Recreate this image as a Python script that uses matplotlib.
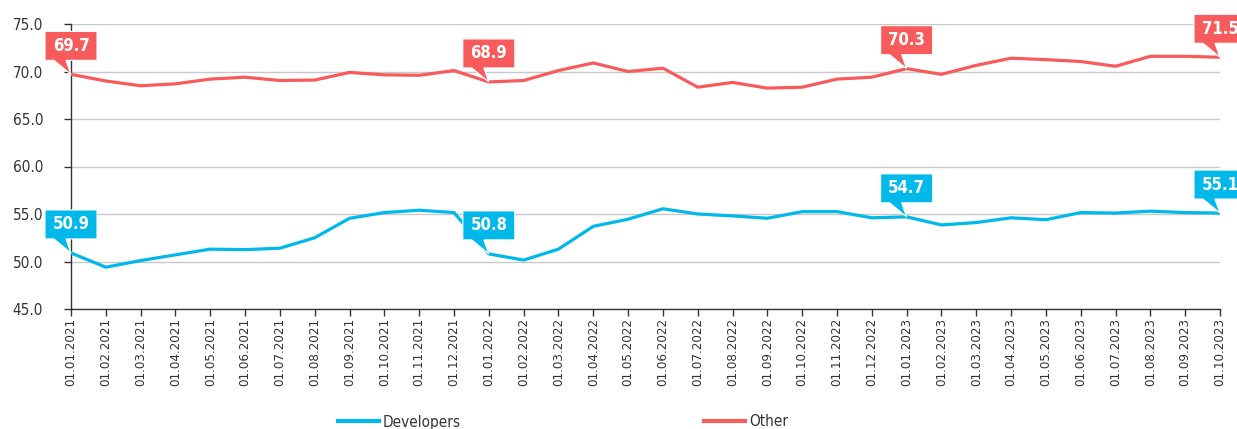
import matplotlib
matplotlib.use("Agg")
import matplotlib.pyplot as plt
import matplotlib.transforms as mtransforms
from matplotlib.patches import Polygon
from matplotlib.lines import Line2D

dates = [
    "01.01.2021", "01.02.2021", "01.03.2021", "01.04.2021", "01.05.2021", "01.06.2021",
    "01.07.2021", "01.08.2021", "01.09.2021", "01.10.2021", "01.11.2021", "01.12.2021",
    "01.01.2022", "01.02.2022", "01.03.2022", "01.04.2022", "01.05.2022", "01.06.2022",
    "01.07.2022", "01.08.2022", "01.09.2022", "01.10.2022", "01.11.2022", "01.12.2022",
    "01.01.2023", "01.02.2023", "01.03.2023", "01.04.2023", "01.05.2023", "01.06.2023",
    "01.07.2023", "01.08.2023", "01.09.2023", "01.10.2023",
]
developers = [50.9, 49.4, 50.1, 50.7, 51.3, 51.25, 51.4, 52.5, 54.55, 55.15, 55.4, 55.15,
              50.8, 50.15, 51.3, 53.7, 54.45, 55.55, 55.0, 54.8, 54.55, 55.25, 55.25, 54.6,
              54.7, 53.85, 54.1, 54.6, 54.4, 55.15, 55.1, 55.3, 55.15, 55.1]
other = [69.7, 69.0, 68.5, 68.7, 69.2, 69.4, 69.05, 69.1, 69.9, 69.65, 69.6, 70.1,
         68.9, 69.05, 70.1, 70.9, 70.0, 70.35, 68.35, 68.85, 68.25, 68.35, 69.2, 69.4,
         70.3, 69.7, 70.65, 71.4, 71.25, 71.05, 70.55, 71.6, 71.6, 71.5]
label_idx = [0, 12, 24, 33]
yticks = [45, 50, 55, 60, 65, 70, 75]

BLUE = "#00B8EA"
RED = "#F75B5B"
FONT = ["DejaVu Sans"]
plt.rcParams["font.family"] = FONT
plt.rcParams["font.stretch"] = "condensed"

fig = plt.figure(figsize=(12.37, 4.29), dpi=100)
ax = fig.add_axes([71 / 1237, 1 - 309 / 429, (1220 - 71) / 1237, (309 - 24) / 429])

x = list(range(len(dates)))
ax.plot(x, developers, color=BLUE, lw=2.3, solid_joinstyle="round", zorder=3)
ax.plot(x, other, color=RED, lw=2.3, solid_joinstyle="round", zorder=3)

ax.set_xlim(0, len(dates) - 1)
ax.set_ylim(45, 75)
ax.set_yticks(yticks)
ax.set_yticklabels([f"{v:.1f}" for v in yticks], fontsize=11, color="#333333")
ax.set_xticks(x)
ax.set_xticklabels(dates, rotation=90, fontsize=9.5, color="#333333")
ax.tick_params(axis="x", length=5, width=1, color="#333333", pad=1.5)
ax.tick_params(axis="y", length=5, width=1, color="#333333", pad=15)
ax.grid(axis="y", color="#C8C8C8", lw=1)
ax.set_axisbelow(True)
for s in ["top", "right"]:
    ax.spines[s].set_visible(False)
for s in ["left", "bottom"]:
    ax.spines[s].set_color("#333333")
    ax.spines[s].set_linewidth(1)

# callouts (pixel offsets relative to the data point)
verts = [(-26, 14), (-17, 14), (0, 0), (-5, 14), (26, 14), (26, 43), (-26, 43)]
for series, col in [(developers, BLUE), (other, RED)]:
    for i in label_idx:
        tr = mtransforms.Affine2D() + mtransforms.ScaledTranslation(x[i], series[i], ax.transData)
        poly = Polygon(verts, closed=True, transform=tr, facecolor=col,
                       edgecolor="white", lw=0.8, clip_on=False, zorder=5)
        ax.add_patch(poly)
        ttr = mtransforms.Affine2D().translate(0, 28.5) + mtransforms.ScaledTranslation(x[i], series[i], ax.transData)
        ax.text(0, 0, f"{series[i]:.1f}", transform=ttr, ha="center", va="center",
                color="white", fontsize=12, fontweight="bold", clip_on=False, zorder=6)

handles = [Line2D([], [], color=BLUE, lw=3), Line2D([], [], color=RED, lw=3)]
fig.legend(handles, ["Developers", "Other"], loc="center left",
           bbox_to_anchor=(338 / 1237, 1 - 422 / 429), ncol=2, frameon=False,
           fontsize=11, handlelength=2.7, handletextpad=0.25, columnspacing=15.9,
           borderpad=0, borderaxespad=0, labelcolor="#333333")

fig.savefig("out.png", dpi=100)
